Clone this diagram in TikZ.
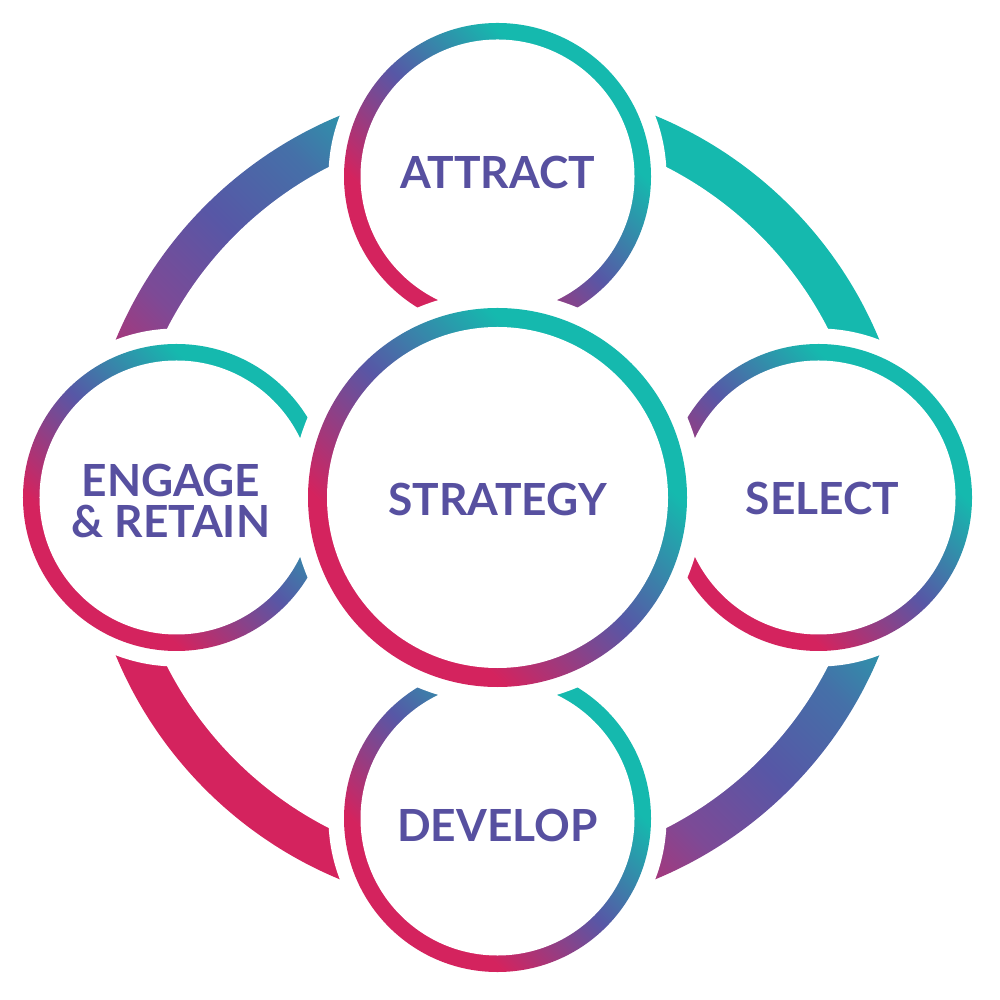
\documentclass[tikz,border=0pt]{standalone}
\usepackage{fontspec}
\setmainfont{Lato}
\usetikzlibrary{positioning}
\definecolor{ringteal}{HTML}{15B9AE}
\definecolor{ringblue}{HTML}{4570A8}
\definecolor{ringviolet}{HTML}{5757A6}
\definecolor{ringpurple}{HTML}{7D4A96}
\definecolor{ringmagenta}{HTML}{D4235E}
\definecolor{labeltext}{HTML}{5750A0}
\pgfdeclarehorizontalshading{cyclegrad}{100bp}{color(0bp)=(ringmagenta); color(33bp)=(ringmagenta); color(50bp)=(ringviolet); color(67bp)=(ringteal); color(100bp)=(ringteal)}
\pgfdeclarehorizontalshading{rimgrad}{100bp}{color(0bp)=(ringmagenta); color(36bp)=(ringmagenta); color(44bp)=(ringpurple); color(50bp)=(ringviolet); color(56bp)=(ringblue); color(64bp)=(ringteal); color(100bp)=(ringteal)}

\begin{document}
\begin{tikzpicture}[
    gradring/.style={shading=cyclegrad, shading angle=45},
    gradrim/.style={shading=rimgrad, shading angle=45},
    knockout/.style={fill=white},
    phase/.style={font=\fontsize{12.6}{11.4}\selectfont\bfseries, text=labeltext,
                  align=center, inner sep=0pt}
]
\useasboundingbox (-4.975,-5.025) rectangle (5.025,4.975);
\coordinate (core) at (0,0);
\coordinate (attractpos) at (0,3.21);
\coordinate (selectpos) at (3.21,0);
\coordinate (developpos) at (0,-3.21);
\coordinate (engagepos) at (-3.21,0);
% outer ring, cut where the small circles sit
\shade[gradrim] (core) circle (4.13);
\fill[knockout] (core) circle (3.71);
\foreach \c in {attractpos,selectpos,developpos,engagepos}
  \fill[knockout] (\c) circle (1.69);
% the four phase rings
\foreach \c in {attractpos,selectpos,developpos,engagepos}{
  \shade[gradring] (\c) circle (1.535);
  \fill[knockout] (\c) circle (1.37);
}
% strategy ring on top
\fill[knockout] (core) circle (2.06);
\shade[gradring] (core) circle (1.895);
\fill[knockout] (core) circle (1.705);
% labels
\node[phase] (strategy) at (0,-0.015) {STRATEGY};
\node[phase] (attract) at (0,3.245) {ATTRACT};
\node[phase] (select) at (3.25,-0.005) {SELECT};
\node[phase] (develop) at (0,-3.275) {DEVELOP};
\node[phase] (engage) at (-3.265,-0.035) {ENGAGE\\\& RETAIN};
\end{tikzpicture}
\end{document}
